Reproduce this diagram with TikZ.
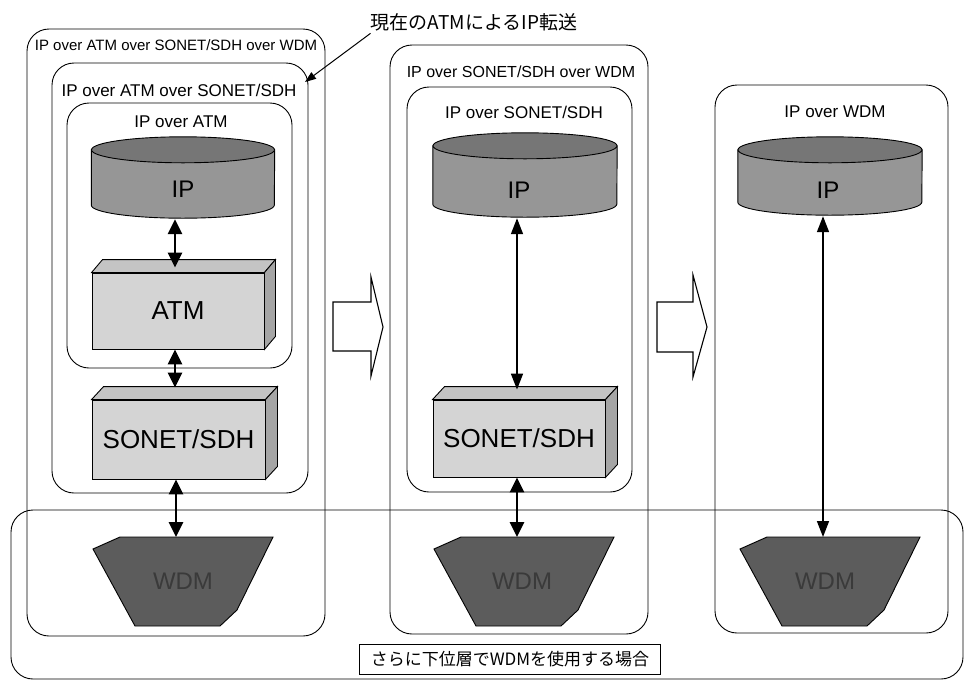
\documentclass[tikz,border=0pt]{standalone}
\usepackage{fontspec}
\setmainfont{Liberation Sans}
\newfontfamily\jpfont{Noto Sans CJK JP}
\usepackage{xcolor}
\definecolor{ipbody}{RGB}{150,150,150}
\definecolor{iptop}{RGB}{118,118,118}
\definecolor{slabfront}{RGB}{212,212,212}
\definecolor{slabtop}{RGB}{196,196,196}
\definecolor{slabside}{RGB}{165,165,165}
\definecolor{wdmgray}{RGB}{92,92,92}
\definecolor{wdmink}{RGB}{58,58,58}
\usepackage{tikz}
\usetikzlibrary{arrows.meta, calc}

\begin{document}
\begin{tikzpicture}[x=1pt, y=-1pt,
  layerbox/.style={draw=black, line width=0.9pt, rounded corners=22pt},
  overlabel/.style={font=\fontsize{17}{20}\selectfont, inner sep=0pt},
  ipdisk/.style={minimum width=183pt, minimum height=55pt, inner sep=0pt},
  ipbodyface/.style={draw=black, line width=0.9pt, fill=ipbody},
  iptopface/.style={draw=black, line width=0.9pt, fill=iptop},
  iplabel/.style={font=\fontsize{24}{28}\selectfont, inner sep=0pt},
  slab/.style={draw=black, line width=0.9pt, fill=slabfront, inner sep=0pt,
    font=\fontsize{26}{30}\selectfont},
  slabtopface/.style={draw=black, line width=0.9pt, fill=slabtop},
  slabsideface/.style={draw=black, line width=0.9pt, fill=slabside},
  wdmshape/.style={draw=black, line width=0.9pt, fill=wdmgray},
  wdmlabel/.style={font=\fontsize{24}{28}\selectfont, text=wdmink, inner sep=0pt},
  twoway/.style={{Triangle[width=14pt,length=15pt]}-{Triangle[width=14pt,length=15pt]}, line width=2.6pt},
  twowaythin/.style={{Triangle[width=12pt,length=16pt]}-{Triangle[width=12pt,length=16pt]}, line width=1.6pt},
  nextstep/.style={draw=black, line width=1.1pt, fill=white}]
  \useasboundingbox (0,0) rectangle (964,681);

  % lower layer frame
  \draw[layerbox] (11,510) rectangle (963,679);
  \node[draw=black, line width=0.8pt, font=\jpfont\fontsize{17}{20}\selectfont,
    minimum width=301pt, minimum height=30pt, inner sep=0pt] (lowerlbl) at (510,659)
    {さらに下位層でWDMを使用する場合};

  % Column 1
  \draw[layerbox] (27,29) rectangle (325,636);
  \draw[layerbox] (52,63) rectangle (308,493);
  \draw[layerbox] (67,103) rectangle (292,368);
  \node[overlabel, font=\fontsize{15}{18}\selectfont] (titleA1) at (176,45) {IP over ATM over SONET/SDH over WDM};
  \node[overlabel] (titleA2) at (179,90) {IP over ATM over SONET/SDH};
  \node[overlabel] (titleA3) at (181,122) {IP over ATM};

  \node[ipdisk] (ipA) at (183,177.5) {};
  \filldraw[ipbodyface] (ipA.north west) -- (ipA.south west) arc[start angle=180, end angle=0, x radius=91.5, y radius=13] -- (ipA.north east) -- cycle;
  \filldraw[iptopface] (ipA.north) ellipse[x radius=91.5, y radius=13];
  \node[iplabel] (ipAlbl) at ([yshift=-12pt]ipA.center) {IP};

  \node[slab, minimum width=172pt, minimum height=76pt] (atmA) at (178,311) {ATM};
  \filldraw[slabtopface] (atmA.north west) -- ++(11,-13) -- ([shift={(11,-13)}]atmA.north east) -- (atmA.north east) -- cycle;
  \filldraw[slabsideface] (atmA.north east) -- ++(11,-13) -- ([shift={(11,-13)}]atmA.south east) -- (atmA.south east) -- cycle;

  \node[slab, minimum width=173pt, minimum height=79pt] (sonA) at (178.5,439.5) {SONET/SDH};
  \filldraw[slabtopface] (sonA.north west) -- ++(12,-13) -- ([shift={(12,-13)}]sonA.north east) -- (sonA.north east) -- cycle;
  \filldraw[slabsideface] (sonA.north east) -- ++(12,-13) -- ([shift={(12,-13)}]sonA.south east) -- (sonA.south east) -- cycle;

  \filldraw[wdmshape] (93,549) -- (120,537) -- (176,537) coordinate (wdmAtop) -- (273,537) -- (237,610) -- (220,626) -- (135,626) -- cycle;
  \node[wdmlabel] (wdmA) at (183,581) {WDM};

  \draw[twoway] ([yshift=-14pt]ipA.south -| 175,0) -- ([yshift=5pt]atmA.north -| 175,0);
  \draw[twoway] (atmA.south -| 175,0) -- ([yshift=12pt]sonA.north -| 175,0);
  \draw[twoway] (sonA.south -| wdmAtop) -- (wdmAtop);

  % callout
  \node[font=\jpfont\fontsize{19}{22}\selectfont, inner sep=0pt] (callout) at (474,22) {現在のATMによるIP転送};
  \coordinate (calltip) at (305,82);
  \draw[-{Triangle[width=8pt,length=11pt]}, line width=1pt, shorten <=4pt] ([xshift=3pt]callout.south west) -- (calltip);

  % arrow 1
  \draw[nextstep] (333,302) -- (371,302) -- (371,277) -- (383,327) -- (371,376) -- (371,351) -- (333,351) -- cycle;

  % Column 2
  \draw[layerbox] (390,45) rectangle (648,634);
  \draw[layerbox] (407,87) rectangle (632,492);
  \node[overlabel, font=\fontsize{16}{19}\selectfont] (titleB1) at (521,72) {IP over SONET/SDH over WDM};
  \node[overlabel] (titleB2) at (524,112) {IP over SONET/SDH};

  \node[ipdisk, minimum width=184pt, minimum height=58pt] (ipB) at (525,175) {};
  \filldraw[ipbodyface] (ipB.north west) -- (ipB.south west) arc[start angle=180, end angle=0, x radius=92, y radius=13] -- (ipB.north east) -- cycle;
  \filldraw[iptopface] (ipB.north) ellipse[x radius=92, y radius=13];
  \node[iplabel] (ipBlbl) at ([xshift=-6pt,yshift=-15pt]ipB.center) {IP};

  \node[slab, minimum width=172pt, minimum height=77pt] (sonB) at (519,438.5) {SONET/SDH};
  \filldraw[slabtopface] (sonB.north west) -- ++(12,-13) -- ([shift={(12,-13)}]sonB.north east) -- (sonB.north east) -- cycle;
  \filldraw[slabsideface] (sonB.north east) -- ++(12,-13) -- ([shift={(12,-13)}]sonB.south east) -- (sonB.south east) -- cycle;

  \filldraw[wdmshape] (434,549) -- (461,537) -- (517,537) coordinate (wdmBtop) -- (614,537) -- (578,610) -- (561,626) -- (476,626) -- cycle;
  \node[wdmlabel] (wdmB) at (522,581) {WDM};

  \draw[twowaythin] ([yshift=-14pt]ipB.south -| 517,0) -- ([yshift=10pt]sonB.north -| 517,0);
  \draw[twoway] (sonB.south -| wdmBtop) -- (wdmBtop);

  % arrow 2
  \draw[nextstep] (657,302) -- (693,302) -- (693,275) -- (707,327) -- (693,377) -- (693,352) -- (657,352) -- cycle;

  % Column 3
  \draw[layerbox] (715,85) rectangle (948,633);
  \node[overlabel] (titleC1) at (835,112) {IP over WDM};

  \node[ipdisk, minimum width=184pt, minimum height=52pt] (ipC) at (830,176) {};
  \filldraw[ipbodyface] (ipC.north west) -- (ipC.south west) arc[start angle=180, end angle=0, x radius=92, y radius=13] -- (ipC.north east) -- cycle;
  \filldraw[iptopface] (ipC.north) ellipse[x radius=92, y radius=13];
  \node[iplabel] (ipClbl) at ([xshift=-2pt,yshift=-14pt]ipC.center) {IP};

  \filldraw[wdmshape] (740,549) -- (767,537) -- (823,537) coordinate (wdmCtop) -- (920,537) -- (884,610) -- (867,626) -- (782,626) -- cycle;
  \node[wdmlabel] (wdmC) at (825,581) {WDM};

  \draw[twowaythin] ([yshift=-14pt]ipC.south -| wdmCtop) -- (wdmCtop);
\end{tikzpicture}
\end{document}
